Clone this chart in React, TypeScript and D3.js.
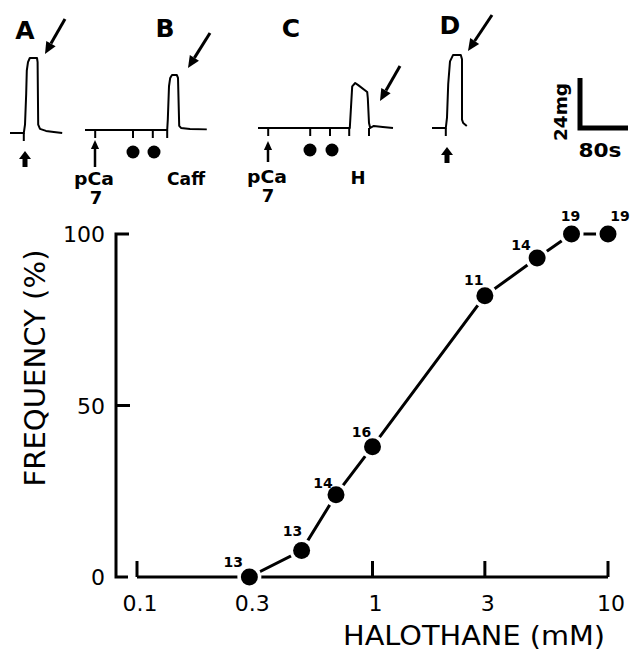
import React from 'react'
import * as d3 from 'd3'

// dose-response data
const halothaneMM = [0.3, 0.5, 0.7, 1, 3, 5, 7, 10]
const frequencyPct = [0, 7.7, 24, 38, 82, 93, 100, 100]
const nFibres = ['13', '13', '14', '16', '11', '14', '19', '19']
const xTickLabels = [0.1, 0.3, 1, 3, 10]
const xTickMarks = [0.1, 1, 3, 10]
const yTicks = [0, 50, 100]

// tension traces: time (s) / tension (mg)
const traceATime = [0, 23, 25, 27, 28, 30, 33, 45, 46, 47, 50, 60, 73, 87]
const traceAForce = [0, 0, 4, 19, 30, 34, 36, 36, 34, 4, 2, 1, 0.5, 0]
const traceAStim = [23]

const traceBTime = [0, 137, 138, 140, 142, 145, 153, 155, 157, 160, 175, 203]
const traceBForce = [0, 0, 5, 21, 25, 26.4, 26.4, 25, 2, 1, 0.5, 0.3]
const traceBStim = [17, 80, 113, 137]

const traceCTime = [0, 153, 155, 157, 162, 167, 182, 183, 185, 187, 193, 208, 225]
const traceCForce = [0, 0, 10, 20, 21.6, 20.6, 17.3, 14.4, 2.4, 0, 1, 0.5, 0]
const traceCStim = [17, 87, 120, 152, 185]

const traceDTime = [0, 23, 25, 27, 30, 35, 48, 50, 50, 52, 58]
const traceDForce = [0, 0, 5, 21, 32, 35, 35, 33, 4, 2.4, 1]
const traceDStim = [23]

const scaleBarTime = 80
const scaleBarForce = 24

const font = '"DejaVu Sans", "Liberation Sans", sans-serif'

const x = d3.scaleLog().domain([0.1, 10]).range([137, 608])
const y = d3.scaleLinear().domain([0, 100]).range([577, 234])
const t = d3.scaleLinear().domain([0, 80]).range([0, 48])
const f = d3.scaleLinear().domain([0, 24]).range([0, -50])

const traceLine = d3.line<[number, number]>()
  .x(d => t(d[0]))
  .y(d => f(d[1]))

// label offsets for n values (layout only)
const labelOffsets: [number, number][] = [
  [-16, -15], [-9, -20], [-13, -12], [-11, -15], [-11, -16], [-16, -13], [-1, -18], [12, -18],
]

const Arrow = ({ x1, y1, x2, y2, w = 3, head = 12 }: { x1: number, y1: number, x2: number, y2: number, w?: number, head?: number }) => {
  const a = Math.atan2(y2 - y1, x2 - x1)
  const bx = x2 - head * Math.cos(a)
  const by = y2 - head * Math.sin(a)
  const px = Math.cos(a + Math.PI / 2) * head * 0.45
  const py = Math.sin(a + Math.PI / 2) * head * 0.45
  return (
    <g>
      <line x1={x1} y1={y1} x2={bx} y2={by} stroke="#000" strokeWidth={w} />
      <path d={`M${x2},${y2}L${bx + px},${by + py}L${bx - px},${by - py}Z`} fill="#000" />
    </g>
  )
}

const BlockArrow = ({ cx, tip, bottom }: { cx: number, tip: number, bottom: number }) => (
  <path
    d={`M${cx},${tip}L${cx + 6},${tip + 8}L${cx + 2.5},${tip + 8}L${cx + 2.5},${bottom}L${cx - 2.5},${bottom}L${cx - 2.5},${tip + 8}L${cx - 6},${tip + 8}Z`}
    fill="#000"
  />
)

const Trace = ({ ox, oy, time, force, stim }: { ox: number, oy: number, time: number[], force: number[], stim: number[] }) => {
  const pts = time.map((d, i) => [d, force[i]] as [number, number])
  return (
    <g transform={`translate(${ox},${oy})`}>
      <path d={traceLine(pts) || ''} fill="none" stroke="#000" strokeWidth={2} strokeLinejoin="round" />
      {stim.map((s, i) => (
        <line key={i} x1={t(s)} x2={t(s)} y1={0} y2={8} stroke="#000" strokeWidth={2} />
      ))}
    </g>
  )
}

export default function App() {
  const pts = halothaneMM.map((d, i) => [x(d), y(frequencyPct[i])] as [number, number])
  const line = d3.line()(pts) || ''
  const txt = { fontFamily: font, fill: '#000' }
  return (
    <svg width={630} height={653} style={{ position: 'absolute', left: 0, top: 0, background: '#fff' }}>
      <rect width={630} height={653} fill="#fff" />

      {/* top panels */}
      <g style={txt} fontWeight="bold" fontSize={25} textAnchor="middle">
        <text x={25} y={39}>A</text>
        <text x={165} y={37}>B</text>
        <text x={291} y={37}>C</text>
        <text x={450} y={34}>D</text>
      </g>
      <Arrow x1={65} y1={19} x2={45} y2={54} />
      <Arrow x1={210} y1={33} x2={188} y2={68} />
      <Arrow x1={400} y1={66} x2={380} y2={101} />
      <Arrow x1={492} y1={15} x2={468} y2={51} />

      <Trace ox={10} oy={133} time={traceATime} force={traceAForce} stim={traceAStim} />
      <Trace ox={85} oy={130} time={traceBTime} force={traceBForce} stim={traceBStim} />
      <Trace ox={258} oy={128} time={traceCTime} force={traceCForce} stim={traceCStim} />
      <Trace ox={432} oy={128} time={traceDTime} force={traceDForce} stim={traceDStim} />

      <BlockArrow cx={25} tip={151} bottom={167} />
      <BlockArrow cx={447} tip={147} bottom={163} />
      <Arrow x1={95} y1={167} x2={95} y2={140} w={2.5} head={9} />
      <Arrow x1={268} y1={162} x2={268} y2={141} w={2.5} head={9} />

      <circle cx={133} cy={152} r={6.5} fill="#000" />
      <circle cx={154} cy={152} r={6.5} fill="#000" />
      <circle cx={310} cy={150} r={6.5} fill="#000" />
      <circle cx={332} cy={150} r={6.5} fill="#000" />

      <g style={txt} fontWeight="bold" fontSize={18} textAnchor="middle">
        <text x={94} y={185} textLength={40} lengthAdjust="spacingAndGlyphs">pCa</text>
        <text x={96} y={204}>7</text>
        <text x={186} y={185} textLength={38} lengthAdjust="spacingAndGlyphs">Caff</text>
        <text x={267} y={183} textLength={40} lengthAdjust="spacingAndGlyphs">pCa</text>
        <text x={268} y={202}>7</text>
        <text x={358} y={184}>H</text>
      </g>

      {/* scale bar */}
      <path
        d={`M580,${128 + f(scaleBarForce)}V128H${580 + t(scaleBarTime)}`}
        fill="none" stroke="#000" strokeWidth={5}
      />
      <text
        style={txt} fontSize={18} fontWeight="bold" textAnchor="middle"
        transform="translate(567,112) rotate(-90)" textLength={58} lengthAdjust="spacingAndGlyphs"
      >24mg</text>
      <text style={txt} fontSize={19} fontWeight="bold" textAnchor="middle" x={600} y={157}
        textLength={43} lengthAdjust="spacingAndGlyphs">80s</text>

      {/* dose-response axes */}
      <path
        d={`M${116 + 13},${y(100)}H116V${y(0)}H128`}
        fill="none" stroke="#000" strokeWidth={3}
      />
      <line x1={116} x2={130} y1={y(50)} y2={y(50)} stroke="#000" strokeWidth={3} />
      <line x1={x(0.1)} x2={x(10)} y1={y(0)} y2={y(0)} stroke="#000" strokeWidth={3} />
      {xTickMarks.map(v => (
        <line key={v} x1={x(v)} x2={x(v)} y1={y(0)} y2={y(0) - 16} stroke="#000" strokeWidth={3} />
      ))}
      <g style={txt} fontSize={22} textAnchor="end">
        {yTicks.map(v => (
          <text key={v} x={105} y={y(v) + 8}>{v}</text>
        ))}
      </g>
      <g style={txt} fontSize={22} textAnchor="middle">
        {xTickLabels.map(v => (
          <text key={v} x={x(v) + 3} y={611}>{v}</text>
        ))}
      </g>
      <text style={txt} fontSize={27} textAnchor="middle" x={474} y={645}
        textLength={262} lengthAdjust="spacingAndGlyphs">HALOTHANE (mM)</text>
      <text style={txt} fontSize={28} textAnchor="middle"
        transform="translate(45,368) rotate(-90)" textLength={237} lengthAdjust="spacingAndGlyphs">FREQUENCY (%)</text>

      {/* curve */}
      <path d={line} fill="none" stroke="#000" strokeWidth={3} />
      {pts.map((p, i) => (
        <circle key={'h' + i} cx={p[0]} cy={p[1]} r={12} fill="#fff" />
      ))}
      {pts.map((p, i) => (
        <circle key={'c' + i} cx={p[0]} cy={p[1]} r={8.5} fill="#000" />
      ))}
      <g style={txt} fontSize={14} fontWeight="bold" textAnchor="middle">
        {pts.map((p, i) => (
          <text key={i} x={p[0] + labelOffsets[i][0]} y={p[1] + labelOffsets[i][1] + 5}>{nFibres[i]}</text>
        ))}
      </g>
    </svg>
  )
}
